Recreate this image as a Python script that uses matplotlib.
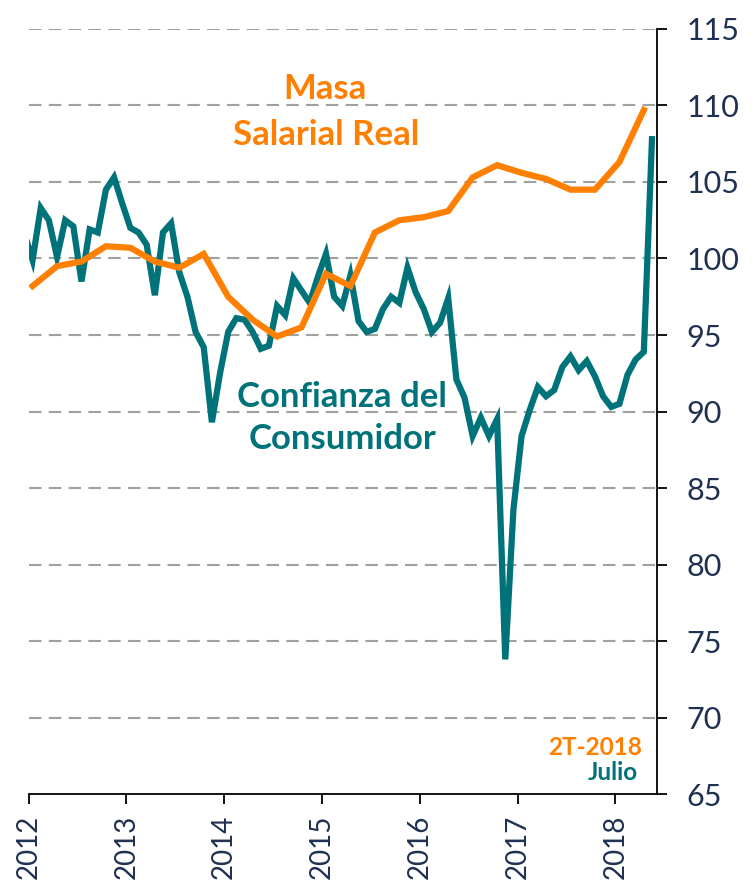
import matplotlib
matplotlib.use("Agg")
import matplotlib.pyplot as plt
import numpy as np

plt.rcParams['font.family'] = ['Lato', 'DejaVu Sans']

# Confianza del Consumidor, mensual (dic-2011 ... ultimo dato)
confianza = [101.6,
             99.9, 103.3, 102.5, 100.1, 102.5, 102.1, 98.5, 101.9, 101.7, 104.5, 105.3, 103.6,
             102.0, 101.7, 100.9, 97.6, 101.7, 102.3, 99.1, 97.5, 95.2, 94.2, 89.3, 92.5,
             95.2, 96.1, 96.0, 95.2, 94.1, 94.3, 96.9, 96.3, 98.7, 97.9, 97.1, 98.8,
             100.3, 97.5, 96.9, 98.9, 95.9, 95.2, 95.4, 96.7, 97.5, 97.1, 99.4, 97.8,
             96.7, 95.2, 95.8, 97.4, 92.1, 90.9, 88.4, 89.6, 88.4, 89.5, 73.8, 83.6,
             88.4, 90.1, 91.6, 91.0, 91.4, 92.9, 93.6, 92.7, 93.3, 92.3, 91.0, 90.3,
             90.5, 92.4, 93.4, 93.9, 107.8]

# Masa Salarial Real, trimestral (1T-2012 ... 2T-2018)
masa = [98.2, 99.5, 99.8, 100.8,
        100.7, 99.8, 99.4, 100.3,
        97.5, 96.0, 94.9, 95.5,
        99.0, 98.2, 101.7, 102.5,
        102.7, 103.1, 105.3, 106.1,
        105.6, 105.2, 104.5, 104.5,
        106.3, 109.7]

years = [2012, 2013, 2014, 2015, 2016, 2017, 2018]
yticks = [65, 70, 75, 80, 85, 90, 95, 100, 105, 110, 115]

teal = '#00737A'
orange = '#FF7F00'
navy = '#1F3050'

# mid-month positions in decimal years
x_conf = 2012 + (np.arange(len(confianza)) - 1 + 0.5) / 12
x_masa = 2012 + (np.arange(len(masa)) * 3 + 0.5) / 12

fig = plt.figure(figsize=(7.56, 8.84), dpi=100)
ax = fig.add_axes([0.0377, 0.1018, 0.8313, 0.8654])

for v in yticks[1:]:
    ax.axhline(v, color='#A0A0A0', lw=1.5, dashes=(6, 3.5), zorder=1)

ax.plot(x_conf, confianza, color=teal, lw=4.5, solid_joinstyle='miter', zorder=3)
ax.plot(x_masa, masa, color=orange, lw=4.5, solid_joinstyle='miter', zorder=4)

ax.set_xlim(2012, 2018.426)
ax.set_ylim(65, 115)

ax.yaxis.tick_right()
ax.set_yticks(yticks)
ax.set_yticklabels([str(v) for v in yticks], fontsize=22, color=navy)
ax.set_xticks(years)
ax.set_xticklabels([str(y) for y in years], rotation=90, fontsize=20, color=navy)
ax.tick_params(axis='y', direction='out', length=7, width=1.3, pad=14)
ax.tick_params(axis='x', direction='out', length=7, width=1.3, pad=8)

ax.spines['left'].set_visible(False)
ax.spines['top'].set_visible(False)
ax.spines['right'].set_linewidth(1.3)
ax.spines['bottom'].set_linewidth(1.3)

bold = dict(fontsize=25, fontweight='bold', ha='center', va='center')
ax.text(2015.03, 111.05, 'Masa', color=orange, **bold)
ax.text(2015.04, 108.05, 'Salarial Real', color=orange, **bold)
ax.text(2015.20, 90.95, 'Confianza del', color=teal, **bold)
ax.text(2015.21, 88.2, 'Consumidor', color=teal, **bold)
ax.text(2018.27, 68.05, '2T-2018', color=orange, fontsize=17.5,
        fontweight='bold', ha='right', va='center')
ax.text(2018.23, 66.4, 'Julio', color=teal, fontsize=17.5,
        fontweight='bold', ha='right', va='center')

fig.savefig('out.png', dpi=100)
